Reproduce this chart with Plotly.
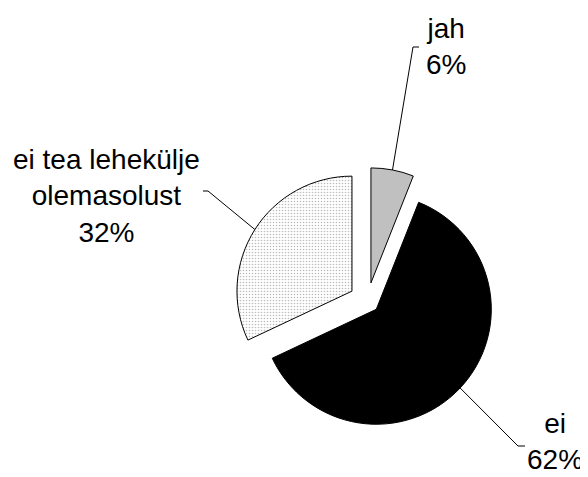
import math
import plotly.graph_objects as go

# data
labels = ["jah", "ei", "ei tea lehekülje<br>olemasolust"]
shares = [6, 62, 32]
colors = ["#c0c0c0", "#000000", "#ffffff"]
pulls = [0.16, 0.105, 0.16]

# label blocks (pixel centre in the reference) and leader line elbows
label_pos = [(446, 47), (555, 441), (106, 196)]
line_ends = [((413, 47), (419, 47)), ((518, 446), (525, 446)), ((208, 191), (203, 191))]

# the page body adds an 8px margin, so the figure is drawn 8px smaller
# and every reference pixel is shifted by that much
OFF = 8
W, H = 588 - OFF, 477 - OFF
cx, cy, R = 367.5 - OFF, 301 - OFF, 115   # pie centre / radius in pixels
half = R * (1 + max(pulls))


def px2paper(x, y):
    return (x - OFF) / W, 1 - (y - OFF) / H


fig = go.Figure(go.Pie(
    labels=labels, values=shares, sort=False,
    direction="clockwise", rotation=0,
    pull=pulls, textinfo="none", hoverinfo="label+percent",
    marker=dict(
        colors=colors,
        line=dict(color="#000000", width=1),
        pattern=dict(shape=["", "", "."], fgcolor="#bcbcbc",
                     bgcolor="#ffffff", size=3, solidity=0.22),
    ),
    domain=dict(x=[(cx - half) / W, (cx + half) / W],
                y=[(H - cy - half) / H, (H - cy + half) / H]),
))

# leader lines from the middle of each slice's arc to its label
total = sum(shares)
start = 0
for i, v in enumerate(shares):
    mid = 2 * math.pi * (start + v / 2) / total
    start += v
    dx, dy = math.sin(mid), -math.cos(mid)
    px = cx + OFF + (1 + pulls[i]) * R * dx
    py = cy + OFF + (1 + pulls[i]) * R * dy
    (ex, ey), (tx, ty) = line_ends[i]
    for p, q in [((px, py), (ex, ey)), ((ex, ey), (tx, ty))]:
        x0, y0 = px2paper(*p)
        x1, y1 = px2paper(*q)
        fig.add_shape(type="line", xref="paper", yref="paper",
                      x0=x0, y0=y0, x1=x1, y1=y1,
                      line=dict(color="#000000", width=1))

    pct = f"{round(100 * v / total)}%"
    lx, ly = px2paper(*label_pos[i])
    fig.add_annotation(x=lx, y=ly, xref="paper", yref="paper",
                       text=f"{labels[i]}<br>{pct}", showarrow=False,
                       xanchor="center", yanchor="middle", align="center",
                       font=dict(size=28, color="#000000"))

fig.update_layout(
    width=W, height=H,
    margin=dict(l=0, r=0, t=0, b=0),
    showlegend=False,
    paper_bgcolor="#ffffff",
    font=dict(family="Liberation Sans, Arial, sans-serif"),
)

fig.write_html("out.html")
